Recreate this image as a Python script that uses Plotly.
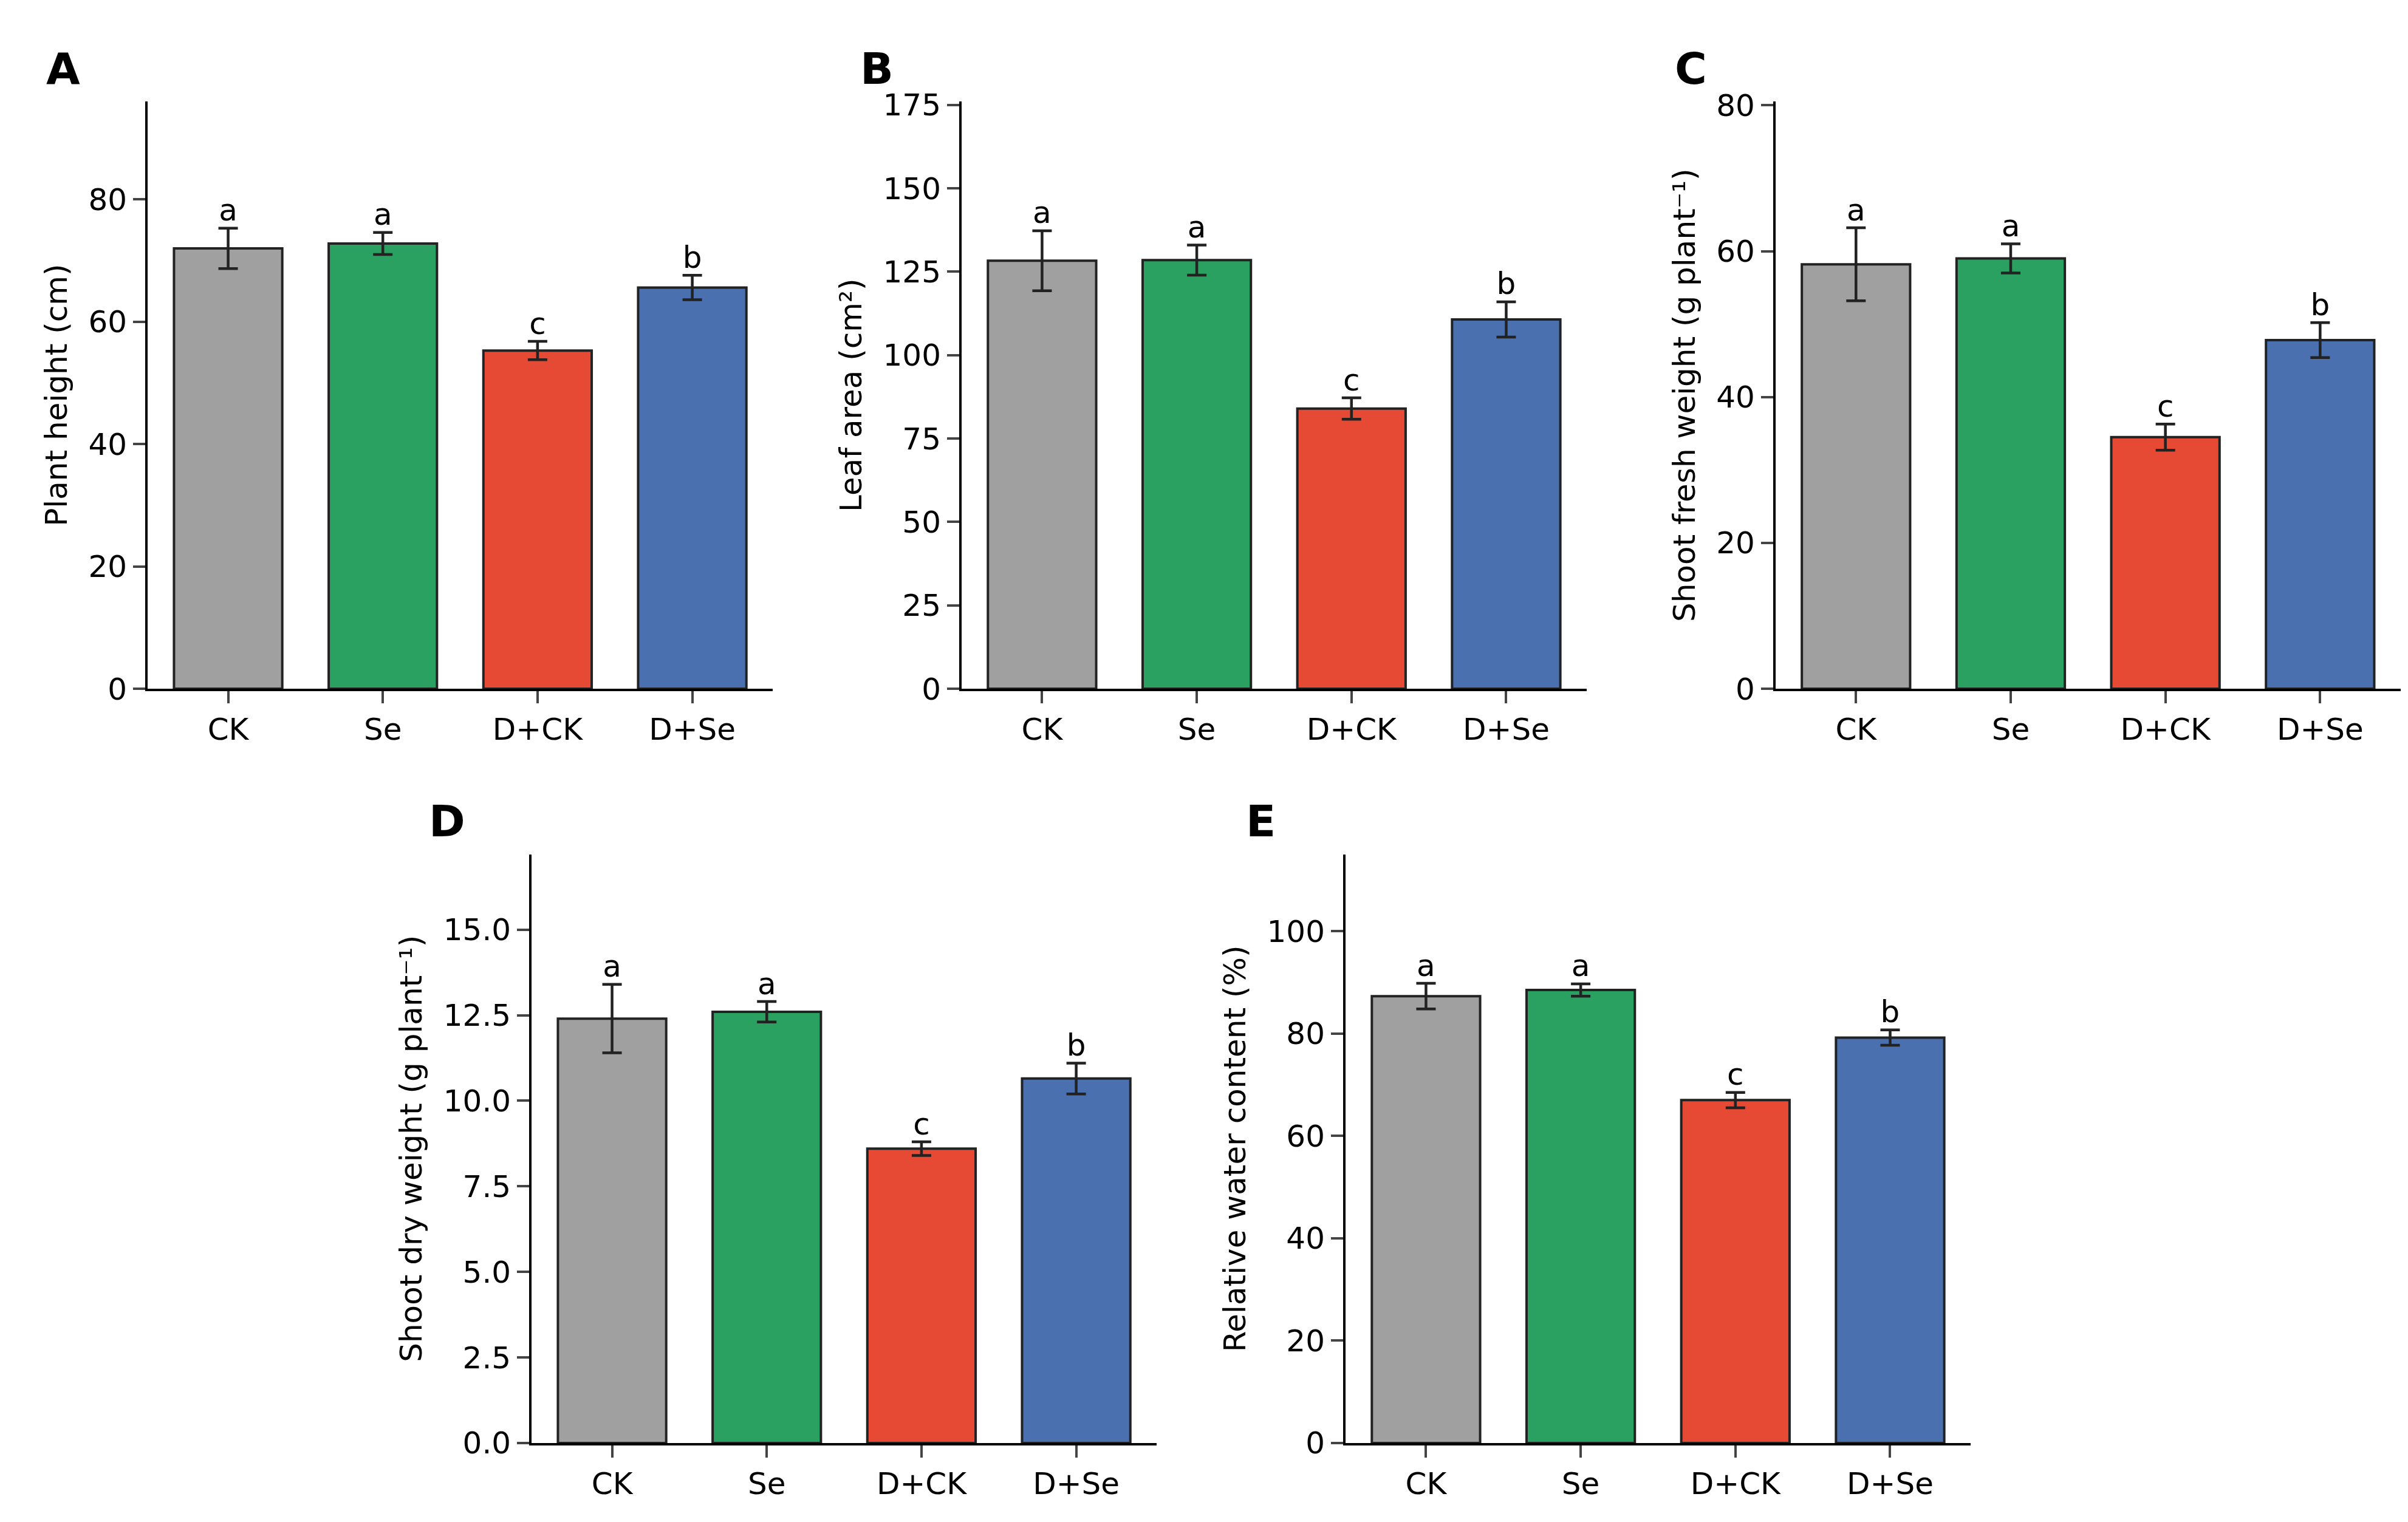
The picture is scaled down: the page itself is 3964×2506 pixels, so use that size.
import plotly.graph_objects as go

# treatment groups and bar colours
groups = ["CK", "Se", "D+CK", "D+Se"]
colors = ["#a0a0a0", "#2aa160", "#e64a35", "#4a70b0"]

# values (mean, error, significance letters)
height_mean = [72.0, 72.8, 55.3, 65.6]
height_err = [3.3, 1.8, 1.5, 2.0]
area_mean = [128.3, 128.5, 84.0, 110.7]
area_err = [9.0, 4.5, 3.2, 5.3]
fresh_mean = [58.2, 59.0, 34.5, 47.8]
fresh_err = [5.0, 2.0, 1.8, 2.4]
dry_mean = [12.4, 12.6, 8.6, 10.65]
dry_err = [1.0, 0.3, 0.2, 0.45]
rwc_mean = [87.3, 88.5, 67.0, 79.2]
rwc_err = [2.5, 1.2, 1.5, 1.5]
letters = ["a", "a", "c", "b"]

W, H = 3964, 2506
sx, sy = W / 1568, H / 990

# panel: (label, means, errs, y title, y max, tick step, tick fmt, x0, x1, ybottom, ytop) in 1568x990 coords
panels = [
    ("A", height_mean, height_err, "Plant height (cm)", 96, 20, "", 93, 500, 445, 55),
    ("B", area_mean, area_err, "Leaf area (cm²)", 176, 25, "", 623, 1030, 445, 55),
    ("C", fresh_mean, fresh_err, "Shoot fresh weight (g plant⁻¹)", 80.5, 20, "", 1153, 1560, 445, 55),
    ("D", dry_mean, dry_err, "Shoot dry weight (g plant⁻¹)", 17.2, 2.5, ".1f", 343, 750, 946, 555),
    ("E", rwc_mean, rwc_err, "Relative water content (%)", 115, 20, "", 873, 1280, 946, 555),
]

fig = go.Figure()
font = dict(family="DejaVu Sans", size=50, color="black")

for i, (lab, m, e, title, ymax, step, fmt, x0, x1, yb, yt) in enumerate(panels):
    n = "" if i == 0 else str(i + 1)
    xa, ya = "x" + n, "y" + n
    fig.add_trace(go.Bar(
        x=list(range(4)), y=m, marker_color=colors,
        marker_line=dict(color="#222222", width=4), width=0.7,
        error_y=dict(type="data", array=e, color="#222222", thickness=4.5, width=16),
        xaxis=xa, yaxis=ya, showlegend=False))
    fig.add_trace(go.Scatter(
        x=list(range(4)), y=[a + b for a, b in zip(m, e)], mode="text",
        text=letters, textposition="top center", textfont=font,
        xaxis=xa, yaxis=ya, showlegend=False))
    ax = dict(domain=[x0 / 1568, x1 / 1568], anchor=ya, range=[-0.52, 3.52],
              tickvals=list(range(4)), ticktext=groups, showline=True,
              linecolor="black", linewidth=4, ticks="outside", ticklen=20,
              tickwidth=4, tickfont=font, showgrid=False, zeroline=False)
    ay = dict(domain=[1 - yb / 990, 1 - yt / 990], anchor=xa, range=[0, ymax],
              dtick=step, tickformat=fmt, showline=True, linecolor="black",
              linewidth=4, ticks="outside", ticklen=20, tickwidth=4,
              tickfont=font, showgrid=False, zeroline=False,
              title=dict(text=title, font=font, standoff=20))
    fig.update_layout({"xaxis" + n: ax, "yaxis" + n: ay})
    fig.add_annotation(text="<b>" + lab + "</b>", xref="paper", yref="paper",
                       x=(x0 - 55) / 1568, y=1 - (yt - 22) / 990,
                       xanchor="center", yanchor="middle", showarrow=False,
                       font=dict(family="DejaVu Sans", size=72, color="black"))

fig.update_layout(width=W, height=H, margin=dict(l=0, r=0, t=0, b=0),
                  plot_bgcolor="white", paper_bgcolor="white")
fig.write_html("out.html")
